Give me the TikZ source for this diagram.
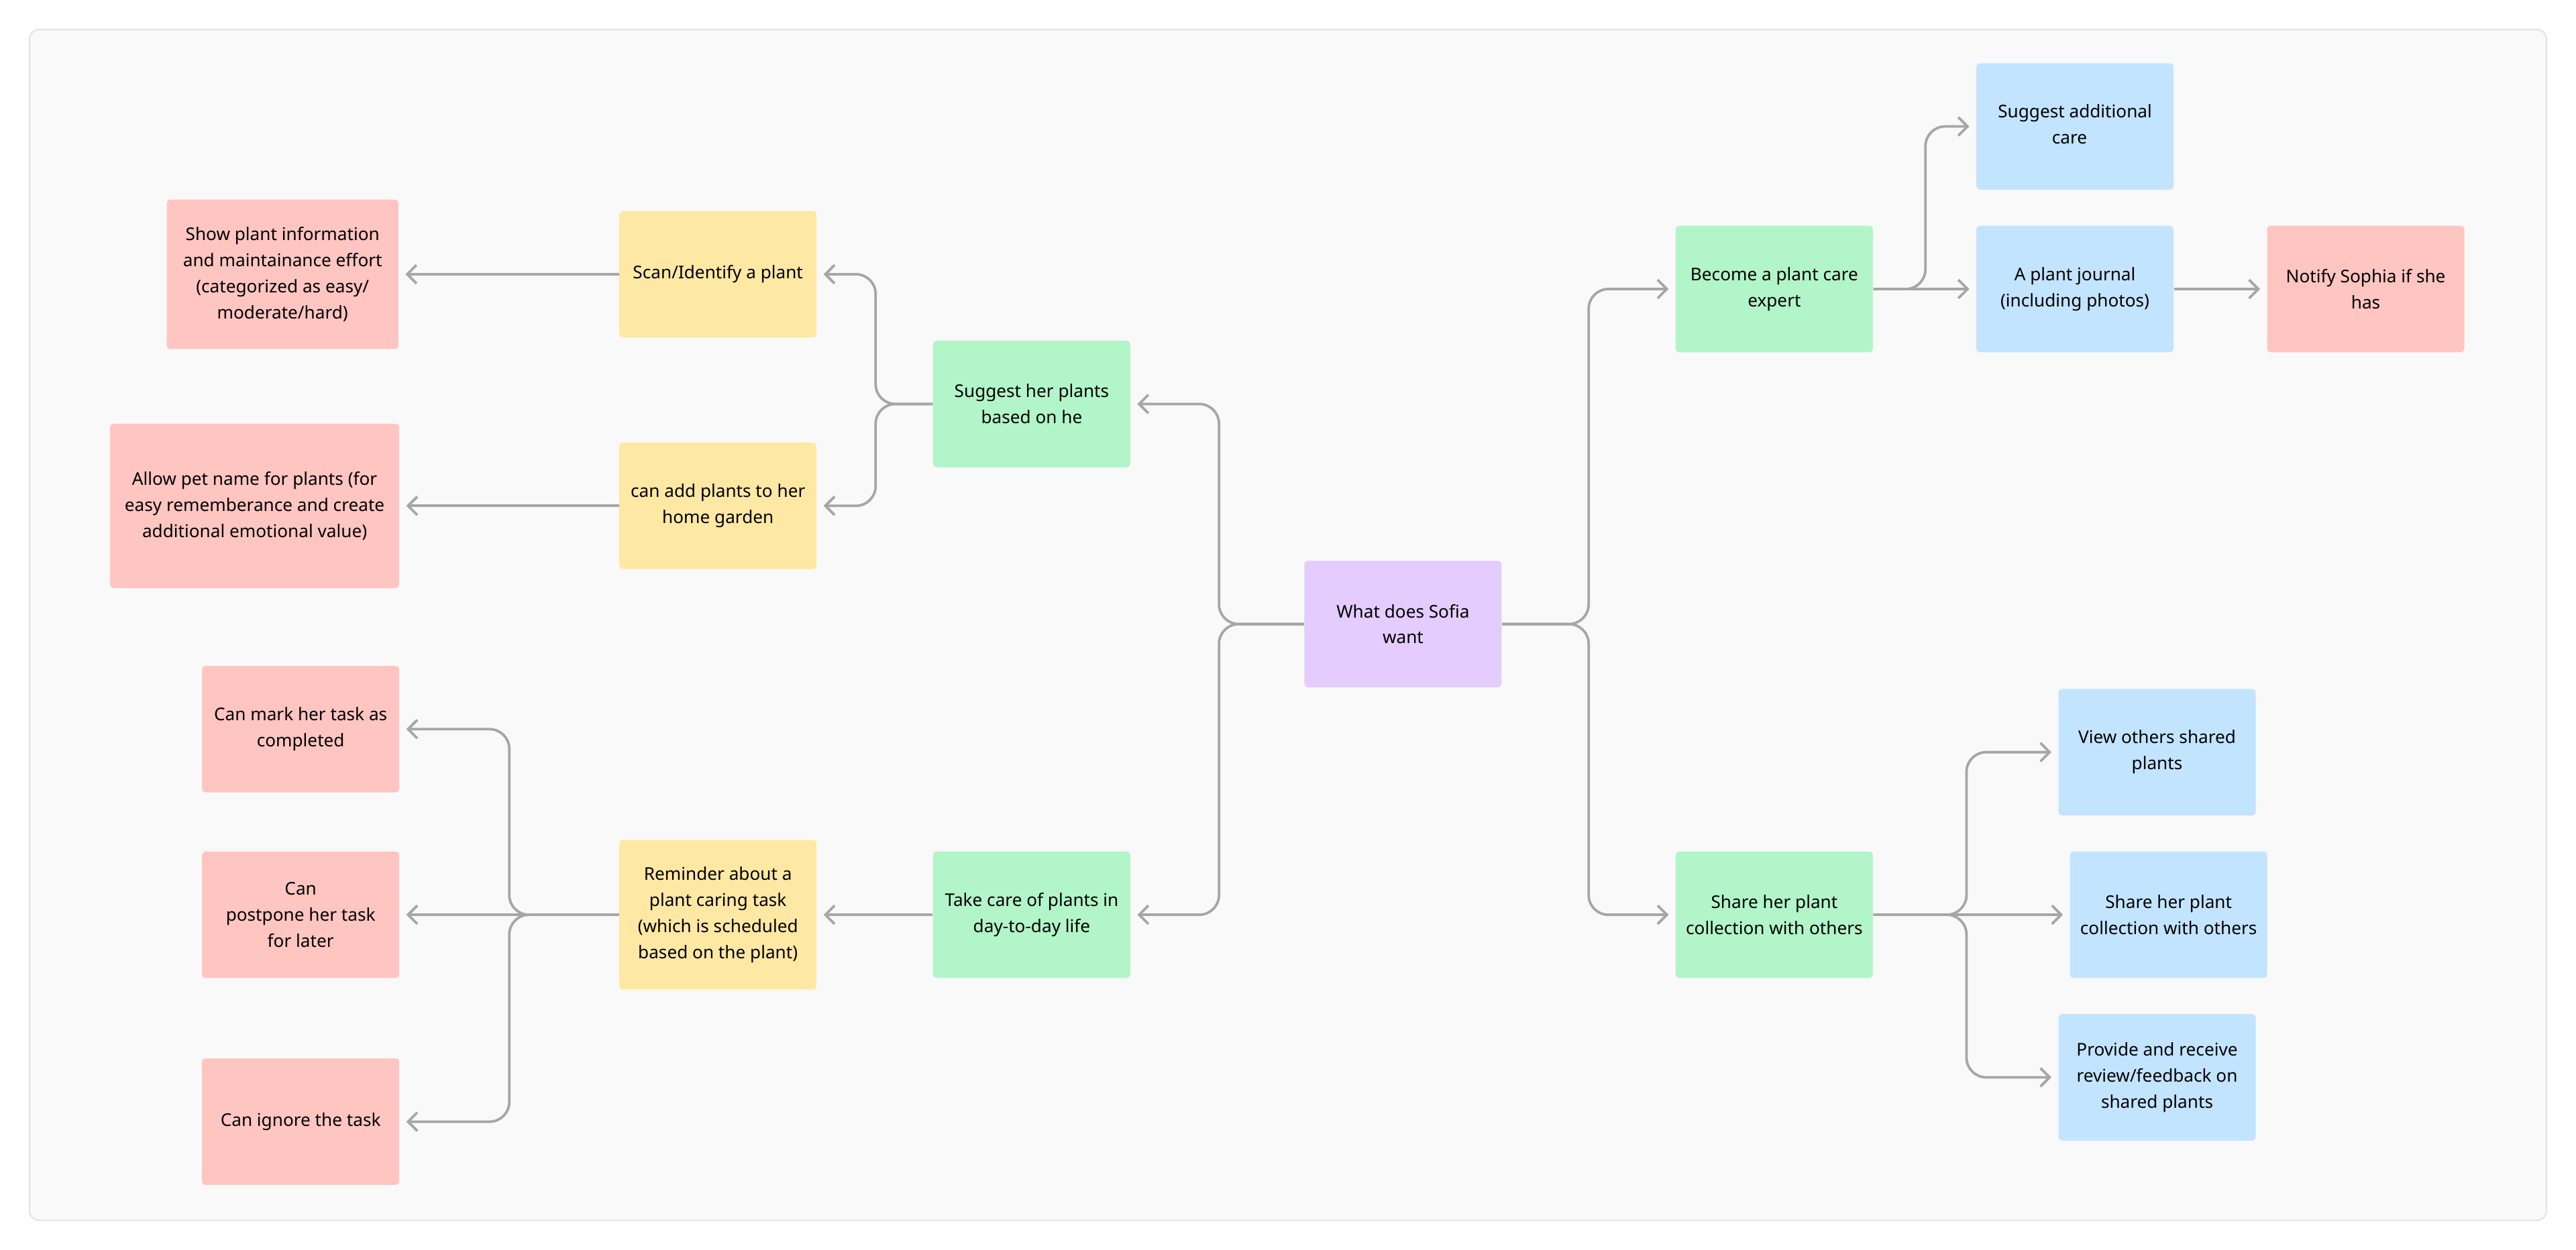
\documentclass[tikz,border=0pt]{standalone}
\usepackage{fontspec}
\setmainfont{Noto Sans}
\usetikzlibrary{arrows.meta}
\definecolor{framebg}{HTML}{F9F9F9}
\definecolor{frameln}{HTML}{E2E2E2}
\definecolor{purplebox}{HTML}{E4CCFF}
\definecolor{greenbox}{HTML}{B1F5C8}
\definecolor{yellowbox}{HTML}{FFE8A3}
\definecolor{redbox}{HTML}{FFC5C1}
\definecolor{bluebox}{HTML}{C2E4FF}
\definecolor{linkgray}{HTML}{A6A6A6}
\tikzset{
  box/.style={rounded corners=1.5pt, minimum width=3cm, minimum height=1.925cm,
    align=center, inner sep=2pt, font=\fontsize{7.6}{11.3}\selectfont},
  root/.style={box, fill=purplebox},
  mid/.style={box, fill=greenbox},
  sub/.style={box, fill=yellowbox},
  leaf/.style={box, fill=redbox},
  side/.style={box, fill=bluebox},
  link/.style={draw=linkgray, line width=1.1pt, rounded corners=0.3cm,
    -{Straight Barb[length=4pt,width=8pt]}, shorten >=0.1cm}
}
\begin{document}
\begin{tikzpicture}[x=0.025cm, y=-0.025cm]
  \useasboundingbox (0,0) rectangle (1568,761);
  \draw[frameln, fill=framebg, rounded corners=4pt, line width=0.6pt] (18,18) rectangle (1550,743);

  % centre
  \node [root] (sofia) at (854,380) {What does Sofia\\want};

  % left side
  \node [mid] (suggest) at (628,246) {Suggest her plants\\based on he};
  \node [mid] (care) at (628,557) {Take care of plants in\\day-to-day life};
  \node [sub] (scan) at (437,167) {Scan/Identify a plant};
  \node [sub] (add) at (437,308) {can add plants to her\\home garden};
  \node [sub, minimum height=2.275cm] (remind) at (437,557) {Reminder about a\\plant caring task\\(which is scheduled\\based on the plant)};
  \node [leaf, minimum width=3.525cm, minimum height=2.275cm] (info) at (172,167) {Show plant information\\and maintainance effort\\(categorized as easy/\\moderate/hard)};
  \node [leaf, minimum width=4.4cm, minimum height=2.5cm] (pet) at (155,308) {Allow pet name for plants (for\\easy rememberance and create\\additional emotional value)};
  \node [leaf] (mark) at (183,444) {Can mark her task as\\completed};
  \node [leaf] (postpone) at (183,557) {Can\\postpone her task\\for later};
  \node [leaf] (ignore) at (183,683) {Can ignore the task};

  % right side
  \node [mid] (expert) at (1080,176) {Become a plant care\\expert};
  \node [mid] (share) at (1080,557) {Share her plant\\collection with others};
  \node [side] (extra) at (1263,77) {Suggest additional\\care\phantom{p}};
  \node [side] (journal) at (1263,176) {A plant journal\\(including photos)};
  \node [leaf] (notify) at (1440,176) {Notify Sophia if she\\has};
  \node [side] (view) at (1313,458) {View others shared\\plants};
  \node [side] (share2) at (1320,557) {Share her plant\\collection with others};
  \node [side] (review) at (1313,656) {Provide and receive\\review/feedback on\\shared plants};

  % junctions
  \coordinate (jl) at (742,380);
  \coordinate (jr) at (967,380);
  \coordinate (js) at (533,246);
  \coordinate (jm) at (310,557);
  \coordinate (je) at (1172,176);
  \coordinate (jh) at (1197,557);

  \draw[link] (sofia.west) -- (jl) |- (suggest.east);
  \draw[link] (sofia.west) -- (jl) |- (care.east);
  \draw[link] (sofia.east) -- (jr) |- (expert.west);
  \draw[link] (sofia.east) -- (jr) |- (share.west);

  \draw[link] (suggest.west) -- (js) |- (scan.east);
  \draw[link] (suggest.west) -- (js) |- (add.east);
  \draw[link] (scan.west) -- (info.east);
  \draw[link] (add.west) -- (pet.east);
  \draw[link] (care.west) -- (remind.east);
  \draw[link] (remind.west) -- (jm) |- (mark.east);
  \draw[link] (remind.west) -- (postpone.east);
  \draw[link] (remind.west) -- (jm) |- (ignore.east);

  \draw[link] (expert.east) -- (je) |- (extra.west);
  \draw[link] (expert.east) -- (journal.west);
  \draw[link] (journal.east) -- (notify.west);
  \draw[link] (share.east) -- (jh) |- (view.west);
  \draw[link] (share.east) -- (share2.west);
  \draw[link] (share.east) -- (jh) |- (review.west);
\end{tikzpicture}
\end{document}
